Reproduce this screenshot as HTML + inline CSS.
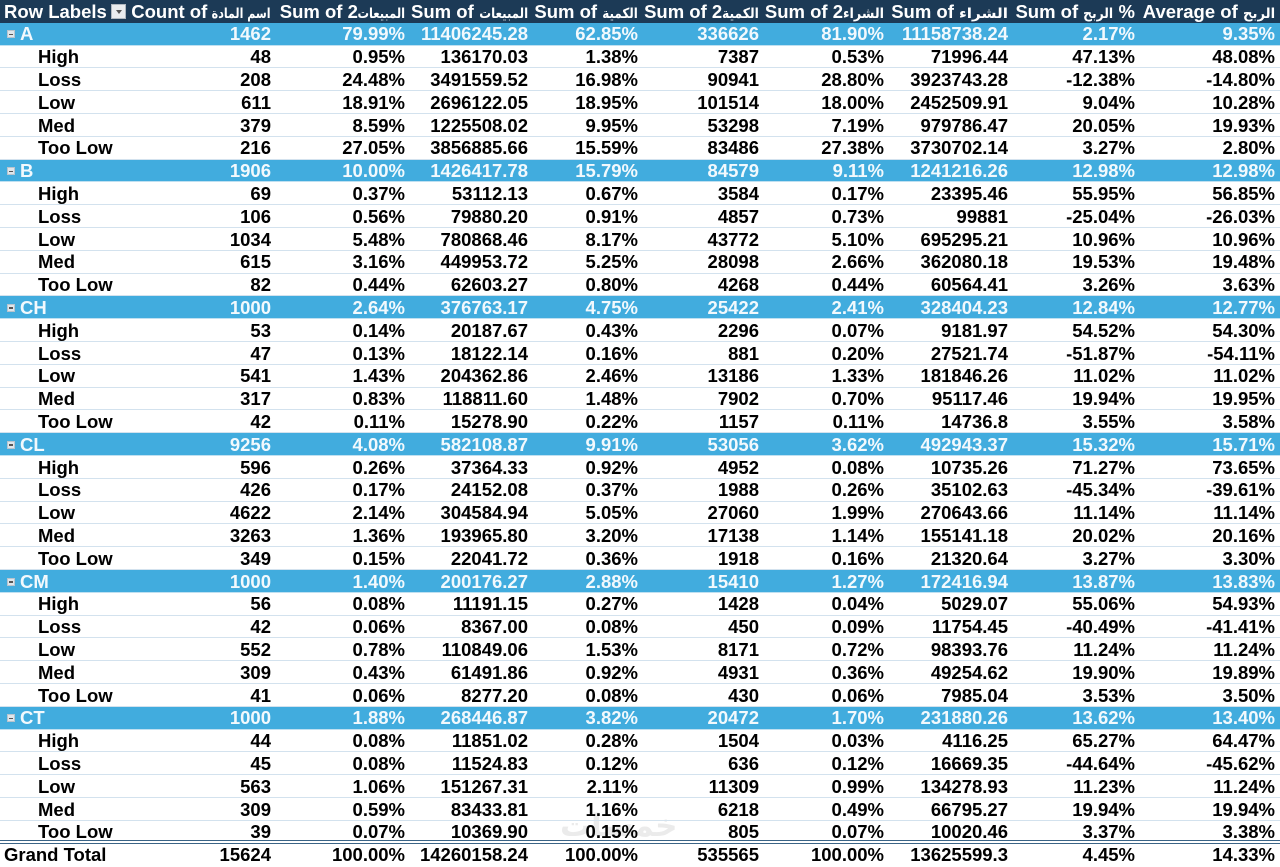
<!DOCTYPE html>
<html>
<head>
<meta charset="utf-8">
<style>
html,body{margin:0;padding:0;background:#fff;}
body{width:1280px;height:866px;position:relative;overflow:hidden;font-family:"Liberation Sans","DejaVu Sans",sans-serif;font-weight:bold;font-size:18.5px;color:#000;}
.r{position:absolute;left:0;width:1280px;height:22.8px;line-height:22.8px;box-sizing:border-box;border-bottom:1px solid #d3e2ee;}
.r span{position:absolute;top:0.7px;white-space:nowrap;}
.c0{left:38px}
.g .c0{left:20px}
.c1{right:1009px}.c2{right:875px}.c3{right:752px}.c4{right:642px}.c5{right:521px}
.c6{right:396px}.c7{right:272px}.c8{right:145px}.c9{right:5px}
.h{background:#1c3a56;color:#fff;height:23px;border-bottom:none;}
.h .c0{left:4px}
.r span.ar{position:static;display:inline-block;font-family:"DejaVu Sans","Liberation Sans",sans-serif;font-size:14px;font-weight:bold;transform-origin:right center;vertical-align:baseline;line-height:22px;}
.g{background:#41acde;color:#f2f9fd;border-bottom:1px solid #bfe0f1;}
.mb{position:absolute;left:7px;top:7.5px;width:8px;height:8px;box-sizing:border-box;background:#dfe6eb;border:1px solid #b8c4ce;}
.mb:after{content:"";position:absolute;left:1px;top:2.5px;width:4px;height:1.5px;background:#555;}
.dd{position:absolute;left:111px;top:4px;width:15px;height:15px;box-sizing:border-box;background:#e9ecef;border:1px solid #b0b8c0;}
.dd:after{content:"";position:absolute;left:3.5px;top:5px;border-left:3.5px solid transparent;border-right:3.5px solid transparent;border-top:4px solid #555;}
.gt{border-bottom:none;}
.dl{position:absolute;left:0;top:840.3px;width:1280px;height:3.3px;box-sizing:border-box;border-top:1.5px solid #3b6486;border-bottom:1px solid #3b6486;}
.wm{position:absolute;left:560px;top:808px;font-family:"DejaVu Sans",sans-serif;font-size:31px;color:#ebebeb;font-weight:bold;}
</style>
</head>
<body>
<div class="wm">خمسات</div>

<div class="r h" style="top:0px"><span class="c0">Row Labels</span><i class="dd"></i><span class="c1">Count of <span class="ar" style="transform:scaleX(.79);margin-left:-16px">اسم المادة</span></span><span class="c2">Sum of 2<span class="ar" style="transform:scaleX(.82);margin-left:-11px">المبيعات</span></span><span class="c3">Sum of <span class="ar" style="transform:scaleX(.84);margin-left:-9px">المبيعات</span></span><span class="c4">Sum of <span class="ar" style="transform:scaleX(.85);margin-left:-6px">الكمية</span></span><span class="c5">Sum of 2<span class="ar" style="transform:scaleX(.88);margin-left:-5px">الكمية</span></span><span class="c6">Sum of 2<span class="ar" style="transform:scaleX(.91);margin-left:-4px">الشراء</span></span><span class="c7">Sum of <span class="ar" style="transform:scaleX(1.09);margin-left:4px">الشراء</span></span><span class="c8">Sum of <span class="ar" style="transform:scaleX(.88);margin-left:-4px">الربح</span> %</span><span class="c9">Average of <span class="ar" style="transform:scaleX(.94);margin-left:-2px">الربح</span></span></div>

<div class="r g" style="top:22.8px"><i class="mb"></i><span class="c0">A</span><span class="c1">1462</span><span class="c2">79.99%</span><span class="c3">11406245.28</span><span class="c4">62.85%</span><span class="c5">336626</span><span class="c6">81.90%</span><span class="c7">11158738.24</span><span class="c8">2.17%</span><span class="c9">9.35%</span></div>
<div class="r" style="top:45.6px"><span class="c0">High</span><span class="c1">48</span><span class="c2">0.95%</span><span class="c3">136170.03</span><span class="c4">1.38%</span><span class="c5">7387</span><span class="c6">0.53%</span><span class="c7">71996.44</span><span class="c8">47.13%</span><span class="c9">48.08%</span></div>
<div class="r" style="top:68.4px"><span class="c0">Loss</span><span class="c1">208</span><span class="c2">24.48%</span><span class="c3">3491559.52</span><span class="c4">16.98%</span><span class="c5">90941</span><span class="c6">28.80%</span><span class="c7">3923743.28</span><span class="c8">-12.38%</span><span class="c9">-14.80%</span></div>
<div class="r" style="top:91.2px"><span class="c0">Low</span><span class="c1">611</span><span class="c2">18.91%</span><span class="c3">2696122.05</span><span class="c4">18.95%</span><span class="c5">101514</span><span class="c6">18.00%</span><span class="c7">2452509.91</span><span class="c8">9.04%</span><span class="c9">10.28%</span></div>
<div class="r" style="top:114px"><span class="c0">Med</span><span class="c1">379</span><span class="c2">8.59%</span><span class="c3">1225508.02</span><span class="c4">9.95%</span><span class="c5">53298</span><span class="c6">7.19%</span><span class="c7">979786.47</span><span class="c8">20.05%</span><span class="c9">19.93%</span></div>
<div class="r" style="top:136.8px"><span class="c0">Too Low</span><span class="c1">216</span><span class="c2">27.05%</span><span class="c3">3856885.66</span><span class="c4">15.59%</span><span class="c5">83486</span><span class="c6">27.38%</span><span class="c7">3730702.14</span><span class="c8">3.27%</span><span class="c9">2.80%</span></div>

<div class="r g" style="top:159.6px"><i class="mb"></i><span class="c0">B</span><span class="c1">1906</span><span class="c2">10.00%</span><span class="c3">1426417.78</span><span class="c4">15.79%</span><span class="c5">84579</span><span class="c6">9.11%</span><span class="c7">1241216.26</span><span class="c8">12.98%</span><span class="c9">12.98%</span></div>
<div class="r" style="top:182.4px"><span class="c0">High</span><span class="c1">69</span><span class="c2">0.37%</span><span class="c3">53112.13</span><span class="c4">0.67%</span><span class="c5">3584</span><span class="c6">0.17%</span><span class="c7">23395.46</span><span class="c8">55.95%</span><span class="c9">56.85%</span></div>
<div class="r" style="top:205.2px"><span class="c0">Loss</span><span class="c1">106</span><span class="c2">0.56%</span><span class="c3">79880.20</span><span class="c4">0.91%</span><span class="c5">4857</span><span class="c6">0.73%</span><span class="c7">99881</span><span class="c8">-25.04%</span><span class="c9">-26.03%</span></div>
<div class="r" style="top:228px"><span class="c0">Low</span><span class="c1">1034</span><span class="c2">5.48%</span><span class="c3">780868.46</span><span class="c4">8.17%</span><span class="c5">43772</span><span class="c6">5.10%</span><span class="c7">695295.21</span><span class="c8">10.96%</span><span class="c9">10.96%</span></div>
<div class="r" style="top:250.8px"><span class="c0">Med</span><span class="c1">615</span><span class="c2">3.16%</span><span class="c3">449953.72</span><span class="c4">5.25%</span><span class="c5">28098</span><span class="c6">2.66%</span><span class="c7">362080.18</span><span class="c8">19.53%</span><span class="c9">19.48%</span></div>
<div class="r" style="top:273.6px"><span class="c0">Too Low</span><span class="c1">82</span><span class="c2">0.44%</span><span class="c3">62603.27</span><span class="c4">0.80%</span><span class="c5">4268</span><span class="c6">0.44%</span><span class="c7">60564.41</span><span class="c8">3.26%</span><span class="c9">3.63%</span></div>

<div class="r g" style="top:296.4px"><i class="mb"></i><span class="c0">CH</span><span class="c1">1000</span><span class="c2">2.64%</span><span class="c3">376763.17</span><span class="c4">4.75%</span><span class="c5">25422</span><span class="c6">2.41%</span><span class="c7">328404.23</span><span class="c8">12.84%</span><span class="c9">12.77%</span></div>
<div class="r" style="top:319.2px"><span class="c0">High</span><span class="c1">53</span><span class="c2">0.14%</span><span class="c3">20187.67</span><span class="c4">0.43%</span><span class="c5">2296</span><span class="c6">0.07%</span><span class="c7">9181.97</span><span class="c8">54.52%</span><span class="c9">54.30%</span></div>
<div class="r" style="top:342px"><span class="c0">Loss</span><span class="c1">47</span><span class="c2">0.13%</span><span class="c3">18122.14</span><span class="c4">0.16%</span><span class="c5">881</span><span class="c6">0.20%</span><span class="c7">27521.74</span><span class="c8">-51.87%</span><span class="c9">-54.11%</span></div>
<div class="r" style="top:364.8px"><span class="c0">Low</span><span class="c1">541</span><span class="c2">1.43%</span><span class="c3">204362.86</span><span class="c4">2.46%</span><span class="c5">13186</span><span class="c6">1.33%</span><span class="c7">181846.26</span><span class="c8">11.02%</span><span class="c9">11.02%</span></div>
<div class="r" style="top:387.6px"><span class="c0">Med</span><span class="c1">317</span><span class="c2">0.83%</span><span class="c3">118811.60</span><span class="c4">1.48%</span><span class="c5">7902</span><span class="c6">0.70%</span><span class="c7">95117.46</span><span class="c8">19.94%</span><span class="c9">19.95%</span></div>
<div class="r" style="top:410.4px"><span class="c0">Too Low</span><span class="c1">42</span><span class="c2">0.11%</span><span class="c3">15278.90</span><span class="c4">0.22%</span><span class="c5">1157</span><span class="c6">0.11%</span><span class="c7">14736.8</span><span class="c8">3.55%</span><span class="c9">3.58%</span></div>

<div class="r g" style="top:433.2px"><i class="mb"></i><span class="c0">CL</span><span class="c1">9256</span><span class="c2">4.08%</span><span class="c3">582108.87</span><span class="c4">9.91%</span><span class="c5">53056</span><span class="c6">3.62%</span><span class="c7">492943.37</span><span class="c8">15.32%</span><span class="c9">15.71%</span></div>
<div class="r" style="top:456px"><span class="c0">High</span><span class="c1">596</span><span class="c2">0.26%</span><span class="c3">37364.33</span><span class="c4">0.92%</span><span class="c5">4952</span><span class="c6">0.08%</span><span class="c7">10735.26</span><span class="c8">71.27%</span><span class="c9">73.65%</span></div>
<div class="r" style="top:478.8px"><span class="c0">Loss</span><span class="c1">426</span><span class="c2">0.17%</span><span class="c3">24152.08</span><span class="c4">0.37%</span><span class="c5">1988</span><span class="c6">0.26%</span><span class="c7">35102.63</span><span class="c8">-45.34%</span><span class="c9">-39.61%</span></div>
<div class="r" style="top:501.6px"><span class="c0">Low</span><span class="c1">4622</span><span class="c2">2.14%</span><span class="c3">304584.94</span><span class="c4">5.05%</span><span class="c5">27060</span><span class="c6">1.99%</span><span class="c7">270643.66</span><span class="c8">11.14%</span><span class="c9">11.14%</span></div>
<div class="r" style="top:524.4px"><span class="c0">Med</span><span class="c1">3263</span><span class="c2">1.36%</span><span class="c3">193965.80</span><span class="c4">3.20%</span><span class="c5">17138</span><span class="c6">1.14%</span><span class="c7">155141.18</span><span class="c8">20.02%</span><span class="c9">20.16%</span></div>
<div class="r" style="top:547.2px"><span class="c0">Too Low</span><span class="c1">349</span><span class="c2">0.15%</span><span class="c3">22041.72</span><span class="c4">0.36%</span><span class="c5">1918</span><span class="c6">0.16%</span><span class="c7">21320.64</span><span class="c8">3.27%</span><span class="c9">3.30%</span></div>

<div class="r g" style="top:570px"><i class="mb"></i><span class="c0">CM</span><span class="c1">1000</span><span class="c2">1.40%</span><span class="c3">200176.27</span><span class="c4">2.88%</span><span class="c5">15410</span><span class="c6">1.27%</span><span class="c7">172416.94</span><span class="c8">13.87%</span><span class="c9">13.83%</span></div>
<div class="r" style="top:592.8px"><span class="c0">High</span><span class="c1">56</span><span class="c2">0.08%</span><span class="c3">11191.15</span><span class="c4">0.27%</span><span class="c5">1428</span><span class="c6">0.04%</span><span class="c7">5029.07</span><span class="c8">55.06%</span><span class="c9">54.93%</span></div>
<div class="r" style="top:615.6px"><span class="c0">Loss</span><span class="c1">42</span><span class="c2">0.06%</span><span class="c3">8367.00</span><span class="c4">0.08%</span><span class="c5">450</span><span class="c6">0.09%</span><span class="c7">11754.45</span><span class="c8">-40.49%</span><span class="c9">-41.41%</span></div>
<div class="r" style="top:638.4px"><span class="c0">Low</span><span class="c1">552</span><span class="c2">0.78%</span><span class="c3">110849.06</span><span class="c4">1.53%</span><span class="c5">8171</span><span class="c6">0.72%</span><span class="c7">98393.76</span><span class="c8">11.24%</span><span class="c9">11.24%</span></div>
<div class="r" style="top:661.2px"><span class="c0">Med</span><span class="c1">309</span><span class="c2">0.43%</span><span class="c3">61491.86</span><span class="c4">0.92%</span><span class="c5">4931</span><span class="c6">0.36%</span><span class="c7">49254.62</span><span class="c8">19.90%</span><span class="c9">19.89%</span></div>
<div class="r" style="top:684px"><span class="c0">Too Low</span><span class="c1">41</span><span class="c2">0.06%</span><span class="c3">8277.20</span><span class="c4">0.08%</span><span class="c5">430</span><span class="c6">0.06%</span><span class="c7">7985.04</span><span class="c8">3.53%</span><span class="c9">3.50%</span></div>

<div class="r g" style="top:706.8px"><i class="mb"></i><span class="c0">CT</span><span class="c1">1000</span><span class="c2">1.88%</span><span class="c3">268446.87</span><span class="c4">3.82%</span><span class="c5">20472</span><span class="c6">1.70%</span><span class="c7">231880.26</span><span class="c8">13.62%</span><span class="c9">13.40%</span></div>
<div class="r" style="top:729.6px"><span class="c0">High</span><span class="c1">44</span><span class="c2">0.08%</span><span class="c3">11851.02</span><span class="c4">0.28%</span><span class="c5">1504</span><span class="c6">0.03%</span><span class="c7">4116.25</span><span class="c8">65.27%</span><span class="c9">64.47%</span></div>
<div class="r" style="top:752.4px"><span class="c0">Loss</span><span class="c1">45</span><span class="c2">0.08%</span><span class="c3">11524.83</span><span class="c4">0.12%</span><span class="c5">636</span><span class="c6">0.12%</span><span class="c7">16669.35</span><span class="c8">-44.64%</span><span class="c9">-45.62%</span></div>
<div class="r" style="top:775.2px"><span class="c0">Low</span><span class="c1">563</span><span class="c2">1.06%</span><span class="c3">151267.31</span><span class="c4">2.11%</span><span class="c5">11309</span><span class="c6">0.99%</span><span class="c7">134278.93</span><span class="c8">11.23%</span><span class="c9">11.24%</span></div>
<div class="r" style="top:798px"><span class="c0">Med</span><span class="c1">309</span><span class="c2">0.59%</span><span class="c3">83433.81</span><span class="c4">1.16%</span><span class="c5">6218</span><span class="c6">0.49%</span><span class="c7">66795.27</span><span class="c8">19.94%</span><span class="c9">19.94%</span></div>
<div class="r" style="top:820.8px;border-bottom:none"><span class="c0">Too Low</span><span class="c1">39</span><span class="c2">0.07%</span><span class="c3">10369.90</span><span class="c4">0.15%</span><span class="c5">805</span><span class="c6">0.07%</span><span class="c7">10020.46</span><span class="c8">3.37%</span><span class="c9">3.38%</span></div>

<div class="dl"></div>
<div class="r gt" style="top:843.6px"><span class="c0" style="left:4px">Grand Total</span><span class="c1">15624</span><span class="c2">100.00%</span><span class="c3">14260158.24</span><span class="c4">100.00%</span><span class="c5">535565</span><span class="c6">100.00%</span><span class="c7">13625599.3</span><span class="c8">4.45%</span><span class="c9">14.33%</span></div>
</body>
</html>
